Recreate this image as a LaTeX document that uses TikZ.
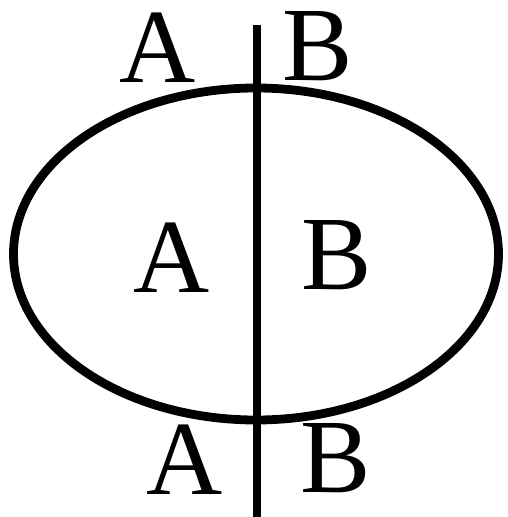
\documentclass[tikz,border=0pt]{standalone}
\usepackage{fontspec}
\setmainfont{Liberation Serif}
\usetikzlibrary{positioning}
\tikzset{
  lbl/.style={font=\fontsize{60}{70}\selectfont, inner sep=0pt},
  thickline/.style={line width=5pt}
}
\begin{document}
\begin{tikzpicture}[x=0.02cm,y=-0.02cm]
\useasboundingbox (0,0) rectangle (507,517);
\draw[thickline] (256,254) ellipse [x radius=242.5, y radius=166];
\coordinate (top) at (257,25);
\coordinate (bot) at (257,517);
\draw[thickline] (top) -- (bot);
\node[lbl] (ta) at (158,48) {A};
\node[lbl] (tb) at (318,46) {B};
\node[lbl] (ma) at (172,258) {A};
\node[lbl] (mb) at (337,255) {B};
\node[lbl] (ba) at (185,460) {A};
\node[lbl] (bb) at (336,458) {B};
\end{tikzpicture}
\end{document}
